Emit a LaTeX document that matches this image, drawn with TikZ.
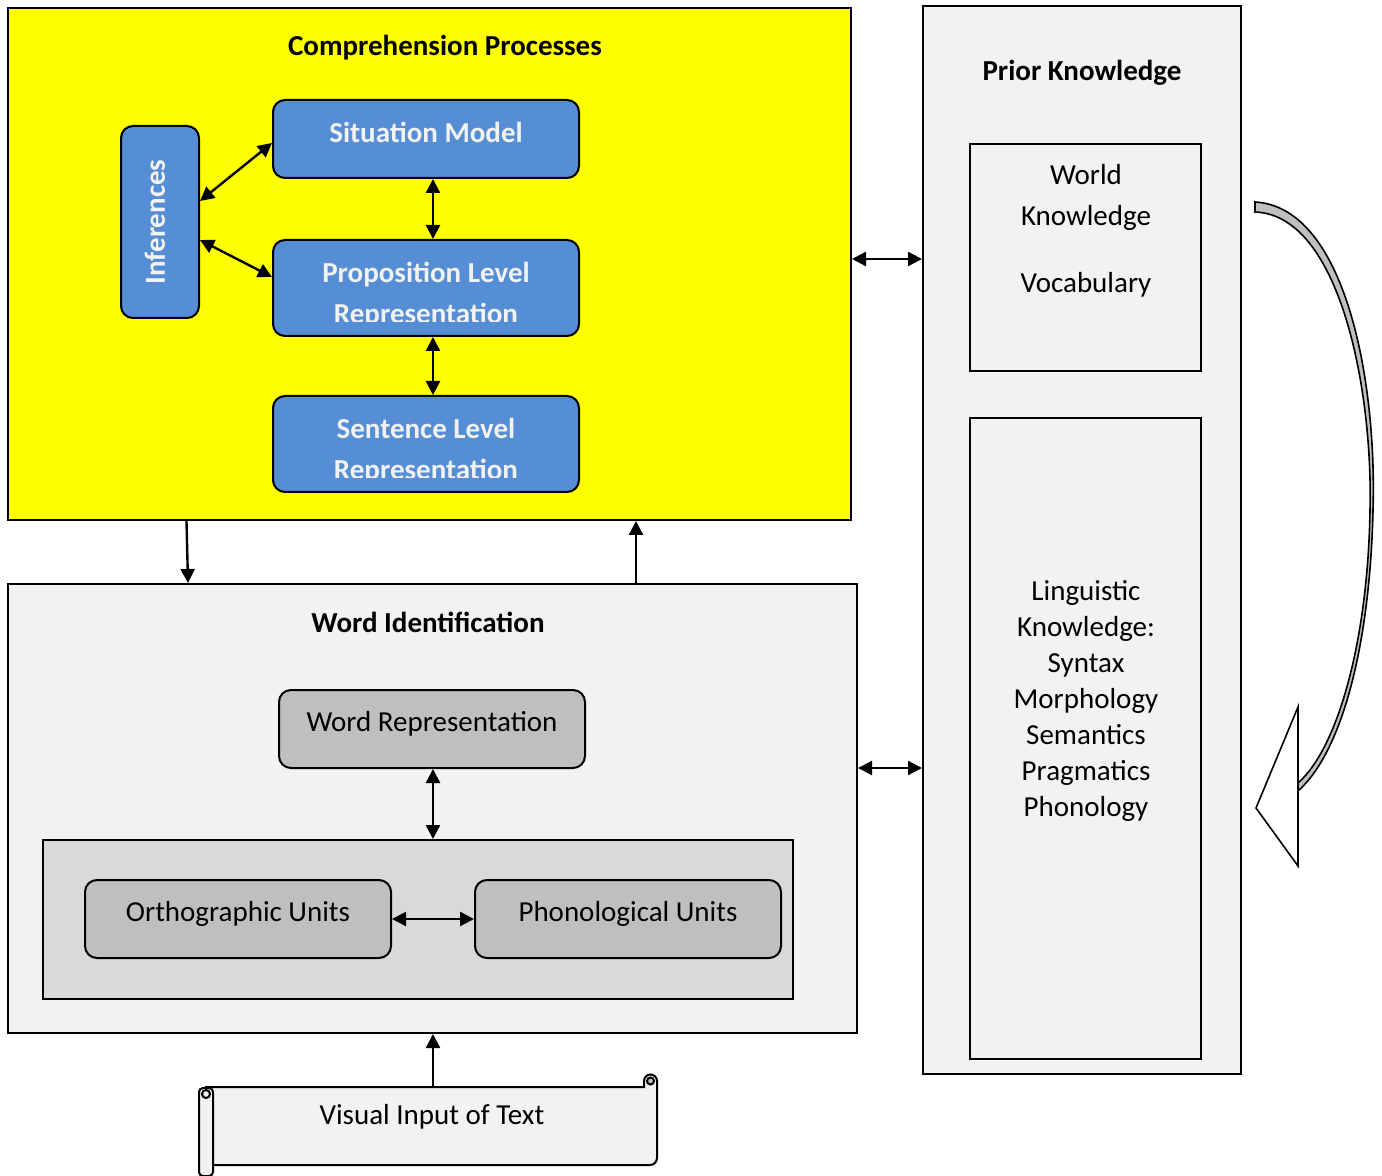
\documentclass[tikz,border=0pt]{standalone}
\usepackage{fontspec}
\setmainfont{Carlito}
\usetikzlibrary{positioning, arrows.meta, calc}

\definecolor{yellowbg}{HTML}{FFFF00}
\definecolor{procblue}{HTML}{558ED5}
\definecolor{paleGray}{HTML}{F2F2F2}
\definecolor{midGray}{HTML}{BFBFBF}
\definecolor{innerGray}{HTML}{D9D9D9}

\newcommand{\diagfont}{\fontsize{14.5pt}{20.5pt}\selectfont}

\tikzset{
    panel/.style={draw, line width=1pt, fill=paleGray},
    paneltitle/.style={font=\diagfont\bfseries},
    blueproc/.style={draw, line width=1pt, rounded corners=6pt, fill=procblue, text=paleGray,
        font=\diagfont\bfseries, align=center, minimum width=153pt, minimum height=39pt},
    proctext/.style={text=paleGray, font=\diagfont\bfseries, align=center},
    unitbox/.style={draw, line width=1pt, rounded corners=6pt, fill=midGray,
        font=\diagfont, minimum width=153pt, minimum height=39pt,
        text height=10.9pt, text depth=8pt},
    link/.style={line width=1.2pt},
    >={Triangle[length=7pt, width=7pt]}
}

\begin{document}
\begin{tikzpicture}[x=0.5pt, y=-0.5pt]
    \useasboundingbox (0,0) rectangle (1382,1176);

    % --- COMPREHENSION PROCESSES ---
    \node[panel, fill=yellowbg, minimum width=421.5pt, minimum height=256pt] (comp) at (429.5,264) {};
    \node[paneltitle] (comptitle) at (445,48) {Comprehension Processes};
    \node[blueproc, text height=10.9pt, text depth=7pt] (sit) at (426,139) {Situation Model};
    \node[blueproc, minimum height=48pt] (prop) at (426,288) {};
    \node[blueproc, minimum height=48pt] (sent) at (426,444) {};
    \node[blueproc, minimum width=39pt, minimum height=96pt] (inf) at (160,222)
        {\rotatebox{90}{Inferences}\hspace{5pt}};

    % text of the two lower boxes, cut off at the bottom
    \begin{scope}
        \clip (prop.north west) rectangle ([yshift=7.5pt]prop.south east);
        \node[proctext] (proptext) at (426,295) {Proposition Level\\Representation};
    \end{scope}
    \begin{scope}
        \clip (sent.north west) rectangle ([yshift=7.5pt]sent.south east);
        \node[proctext] (senttext) at (426,451) {Sentence Level\\Representation};
    \end{scope}

    \draw[link, <->] ([yshift=10.5pt]inf.east) -- ([yshift=-2pt]sit.west);
    \draw[link, <->] ([yshift=-9pt]inf.east) -- ([yshift=5.5pt]prop.west);
    \draw[link, <->] ([xshift=3.5pt]sit.south) -- ([xshift=3.5pt]prop.north);
    \draw[link, <->] ([xshift=3.5pt]prop.south) -- ([xshift=3.5pt]sent.north);

    % --- PRIOR KNOWLEDGE ---
    \node[panel, minimum width=159pt, minimum height=534pt] (prior) at (1082,540) {};
    \node[paneltitle] (priortitle) at (1082,73) {Prior Knowledge};
    \node[panel, minimum width=115.5pt, minimum height=113.5pt] (world) at (1085.5,257.5) {};
    \node[font=\diagfont, align=center] (worldtext) at (1086,231) {World\\Knowledge\\[13pt]Vocabulary};
    \node[panel, minimum width=115.5pt, minimum height=320.5pt] (ling) at (1085.5,738.5) {};
    \node[font=\fontsize{14.5pt}{18pt}\selectfont, align=center] (lingtext) at (1086,701)
        {Linguistic\\Knowledge:\\Syntax\\Morphology\\Semantics\\Pragmatics\\Phonology};

    % curved arrow beside prior knowledge
    \draw[line width=0.8pt, fill=white] (1298,783) -- (1298,707) -- (1256,808) -- (1298,866) -- (1298,791);
    \draw[line width=0.8pt, fill=midGray] (1255,202)
        .. controls (1345,207) and (1377,380) .. (1373,510)
        .. controls (1370,645) and (1342,752) .. (1298,791) -- (1298,783)
        .. controls (1338,748) and (1368,640) .. (1370,510)
        .. controls (1373,390) and (1340,215) .. (1255,212) -- cycle;

    % --- WORD IDENTIFICATION ---
    \node[panel, minimum width=424.5pt, minimum height=224.5pt] (wid) at (432.5,808.5) {};
    \node[paneltitle] (widtitle) at (428,622) {Word Identification};
    \node[unitbox] (wrep) at (432,729) {Word Representation};
    \node[panel, fill=innerGray, minimum width=375pt, minimum height=79.5pt] (units) at (418,919.5) {};
    \node[unitbox] (orth) at (238,919) {Orthographic Units};
    \node[unitbox] (phon) at (628,919) {Phonological Units};

    \draw[link, <->] ([xshift=0.5pt]wrep.south) -- ([xshift=0.5pt]wrep.south |- units.north);
    \draw[link, <->] (orth.east) -- (phon.west);

    % --- LINKS BETWEEN PANELS ---
    \draw[link, <->] ([yshift=2.5pt]comp.east) -- ([yshift=2.5pt]comp.east -| prior.west);
    \draw[link, <->] ([yshift=20.25pt]wid.east) -- ([yshift=20.25pt]wid.east -| prior.west);
    \draw[link, ->] ([xshift=-121.5pt]comp.south) -- ([xshift=-122.25pt]wid.north);
    \draw[link, ->] ([xshift=101.75pt]wid.north) -- ([xshift=101.75pt]wid.north |- comp.south);

    % --- VISUAL INPUT (scroll) ---
    \node[minimum width=225pt, minimum height=39pt] (vis) at (432,1126) {};
    \draw[line width=1pt, fill=paleGray] (206,1087) -- (644,1087) -- (644,1081)
        arc[start angle=180, end angle=360, radius=6.5] -- (657,1158)
        arc[start angle=0, end angle=90, radius=7] -- (206,1165) -- cycle;
    \draw[line width=1pt, fill=midGray] (650.5,1081) circle[radius=3.5];
    \draw[line width=1pt, fill=paleGray, rounded corners=2pt] (199,1088) rectangle (213,1176);
    \draw[line width=1pt] (206,1094) circle[radius=4];
    \node[font=\diagfont] (vistext) at ([yshift=4.5pt]vis.center) {Visual Input of Text};
    \draw[link, ->] ([xshift=0.5pt]vis.north) -- ([xshift=0.5pt]vis.north |- wid.south);
\end{tikzpicture}
\end{document}
